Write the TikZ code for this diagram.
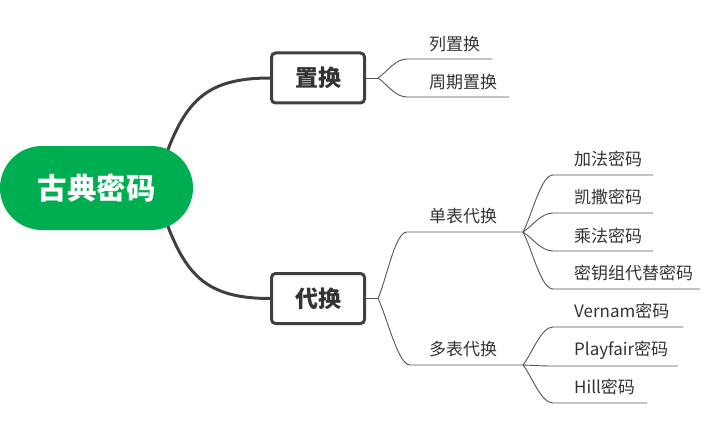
\documentclass[tikz,border=0pt]{standalone}
\usepackage{fontspec}
\newfontfamily\cjk{Noto Sans CJK SC}
\usetikzlibrary{calc,backgrounds}
\definecolor{rootgreen}{RGB}{0,174,82}
\definecolor{boxline}{RGB}{64,64,64}
\definecolor{txt}{RGB}{51,51,51}
\definecolor{thin}{RGB}{85,85,85}
\begin{document}
\begin{tikzpicture}[x=1pt,y=-1pt,
  rootbox/.style={fill=rootgreen, rounded corners=42pt, minimum width=193pt, minimum height=84pt, inner sep=0pt, text=white, font=\cjk\bfseries\fontsize{29.5}{34}\selectfont},
  mainbox/.style={draw=boxline, line width=3pt, fill=white, rounded corners=4pt, minimum width=93pt, minimum height=50pt, inner sep=0pt, text=txt, font=\cjk\bfseries\fontsize{23}{27}\selectfont},
  leaf/.style={anchor=west, inner sep=0pt, text=txt, font=\cjk\fontsize{17}{20}\selectfont},
  thickcurve/.style={draw=boxline, line width=3pt},
  thinline/.style={draw=thin, line width=0.9pt},
  branch/.style={to path={.. controls ($(\tikztostart)!0.3!(\tikztotarget)$) and ($(\tikztotarget)+(-12,0)$) .. (\tikztotarget)}}
]
\useasboundingbox (0,0) rectangle (722,425);

% main nodes
\node[rootbox] (root) at (96.5,188) {古典密码};
\node[mainbox] (zh) at (318,78) {置换};
\node[mainbox] (dh) at (318,298.5) {代换};

\begin{pgfonlayer}{background}
\draw[thickcurve] (root.center) ++(58,0) .. controls (180,110) and (195,78) .. (zh.west);
\draw[thickcurve] (root.center) ++(58,0) .. controls (180,266) and (195,298.5) .. (dh.west);
\end{pgfonlayer}

% junction coordinates
\coordinate (jz) at (378,78);
\coordinate (jd) at (378,298.5);

% 置换 branch
\coordinate (s1) at (407,59);  \coordinate (e1) at (492,59);
\coordinate (s2) at (407,97);  \coordinate (e2) at (509,97);
\node[leaf] (t1) at (429,44) {列置换};
\node[leaf] (t2) at (429,82) {周期置换};
\draw[thinline] (zh.east) -- (jz);
\draw[thinline] (jz) to[branch] (s1) -- (e1);
\draw[thinline] (jz) to[branch] (s2) -- (e2);

% 代换 branch
\draw[thinline] (dh.east) -- (jd);
\coordinate (s3) at (407,232); \coordinate (j3) at (523,232);
\coordinate (s4) at (410,365); \coordinate (j4) at (523,365);
\node[leaf] (t3) at (429,216) {单表代换};
\node[leaf] (t4) at (429,349) {多表代换};
\draw[thinline] (jd) to[branch] (s3) -- (j3);
\draw[thinline] (jd) to[branch] (s4) -- (j4);

% 单表代换 children
\coordinate (a1) at (553,175); \coordinate (b1) at (653,175);
\coordinate (a2) at (553,213); \coordinate (b2) at (653,213);
\coordinate (a3) at (553,251); \coordinate (b3) at (653,251);
\coordinate (a4) at (553,289); \coordinate (b4) at (700,289);
\node[leaf] (c1) at (574,159) {加法密码};
\node[leaf] (c2) at (574,197) {凯撒密码};
\node[leaf] (c3) at (574,236) {乘法密码};
\node[leaf] (c4) at (574,273) {密钥组代替密码};
\draw[thinline] (j3) to[branch] (a1) -- (b1);
\draw[thinline] (j3) to[branch] (a2) -- (b2);
\draw[thinline] (j3) to[branch] (a3) -- (b3);
\draw[thinline] (j3) to[branch] (a4) -- (b4);

% 多表代换 children
\coordinate (d1) at (553,327); \coordinate (f1) at (683,327);
\coordinate (d2) at (553,366); \coordinate (f2) at (678,366);
\coordinate (d3) at (553,403); \coordinate (f3) at (647,403);
\node[leaf] (g1) at (574,311) {Vernam密码};
\node[leaf] (g2) at (574,350) {Playfair密码};
\node[leaf] (g3) at (574,387) {Hill密码};
\draw[thinline] (j4) to[branch] (d1) -- (f1);
\draw[thinline] (j4) to[branch] (d2) -- (f2);
\draw[thinline] (j4) to[branch] (d3) -- (f3);
\end{tikzpicture}
\end{document}
